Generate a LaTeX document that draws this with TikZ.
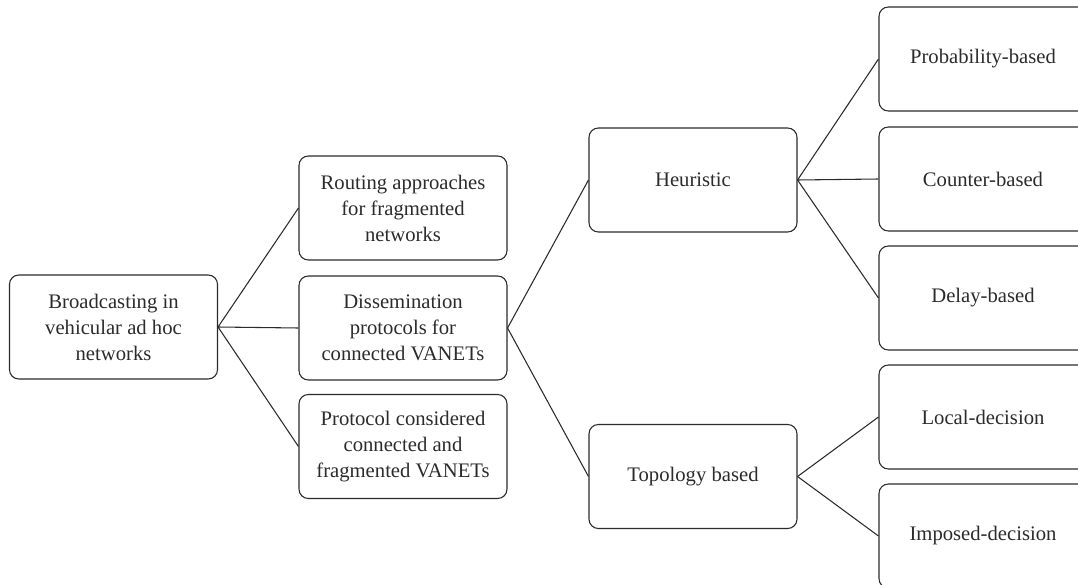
\documentclass[tikz,border=0pt]{standalone}
\usepackage{fontspec}
\setmainfont{Liberation Serif}
\usepackage{tikz}
\usetikzlibrary{positioning,calc}
\usepackage{xcolor}
\definecolor{linegray}{HTML}{2B2B2B}

\begin{document}
\begin{tikzpicture}[x=0.75pt,y=-0.75pt,
    box/.style={draw=linegray, line width=0.8pt, rounded corners=7pt,
      minimum width=156pt, minimum height=78pt, align=center,
      text=linegray, font=\fontsize{15.5}{19.5}\selectfont},
    link/.style={draw=linegray, line width=0.8pt}]
    \useasboundingbox (0,0) rectangle (1078,585);

      % Root
      \node[box] (root) at (113.5,327) {Broadcasting in\\vehicular ad hoc\\networks};

      % First level
      \node[box] (routing) at (403,208) {Routing approaches\\for fragmented\\networks};
      \node[box] (dissem) at (403,328) {Dissemination\\protocols for\\connected VANETs};
      \node[box] (hybrid) at (403,446.5) {Protocol considered\\connected and\\fragmented VANETs};

      % Second level
      \node[box] (heur) at (693,180) {Heuristic};
      \node[box] (topo) at (693,476.5) {Topology based};

      % Third level
      \node[box] (prob) at (983,59) {Probability-based};
      \node[box] (counter) at (983,179) {Counter-based};
      \node[box] (delay) at (983,298) {Delay-based};
      \node[box] (local) at (983,417) {Local-decision};
      \node[box] (imposed) at (983,536) {Imposed-decision};

      % Links
      \foreach \n in {routing, dissem, hybrid}
        \draw[link] (root.east) -- (\n.west);
      \foreach \n in {heur, topo}
        \draw[link] (dissem.east) -- (\n.west);
      \foreach \n in {prob, counter, delay}
        \draw[link] (heur.east) -- (\n.west);
      \foreach \n in {local, imposed}
        \draw[link] (topo.east) -- (\n.west);
  \end{tikzpicture}
\end{document}
